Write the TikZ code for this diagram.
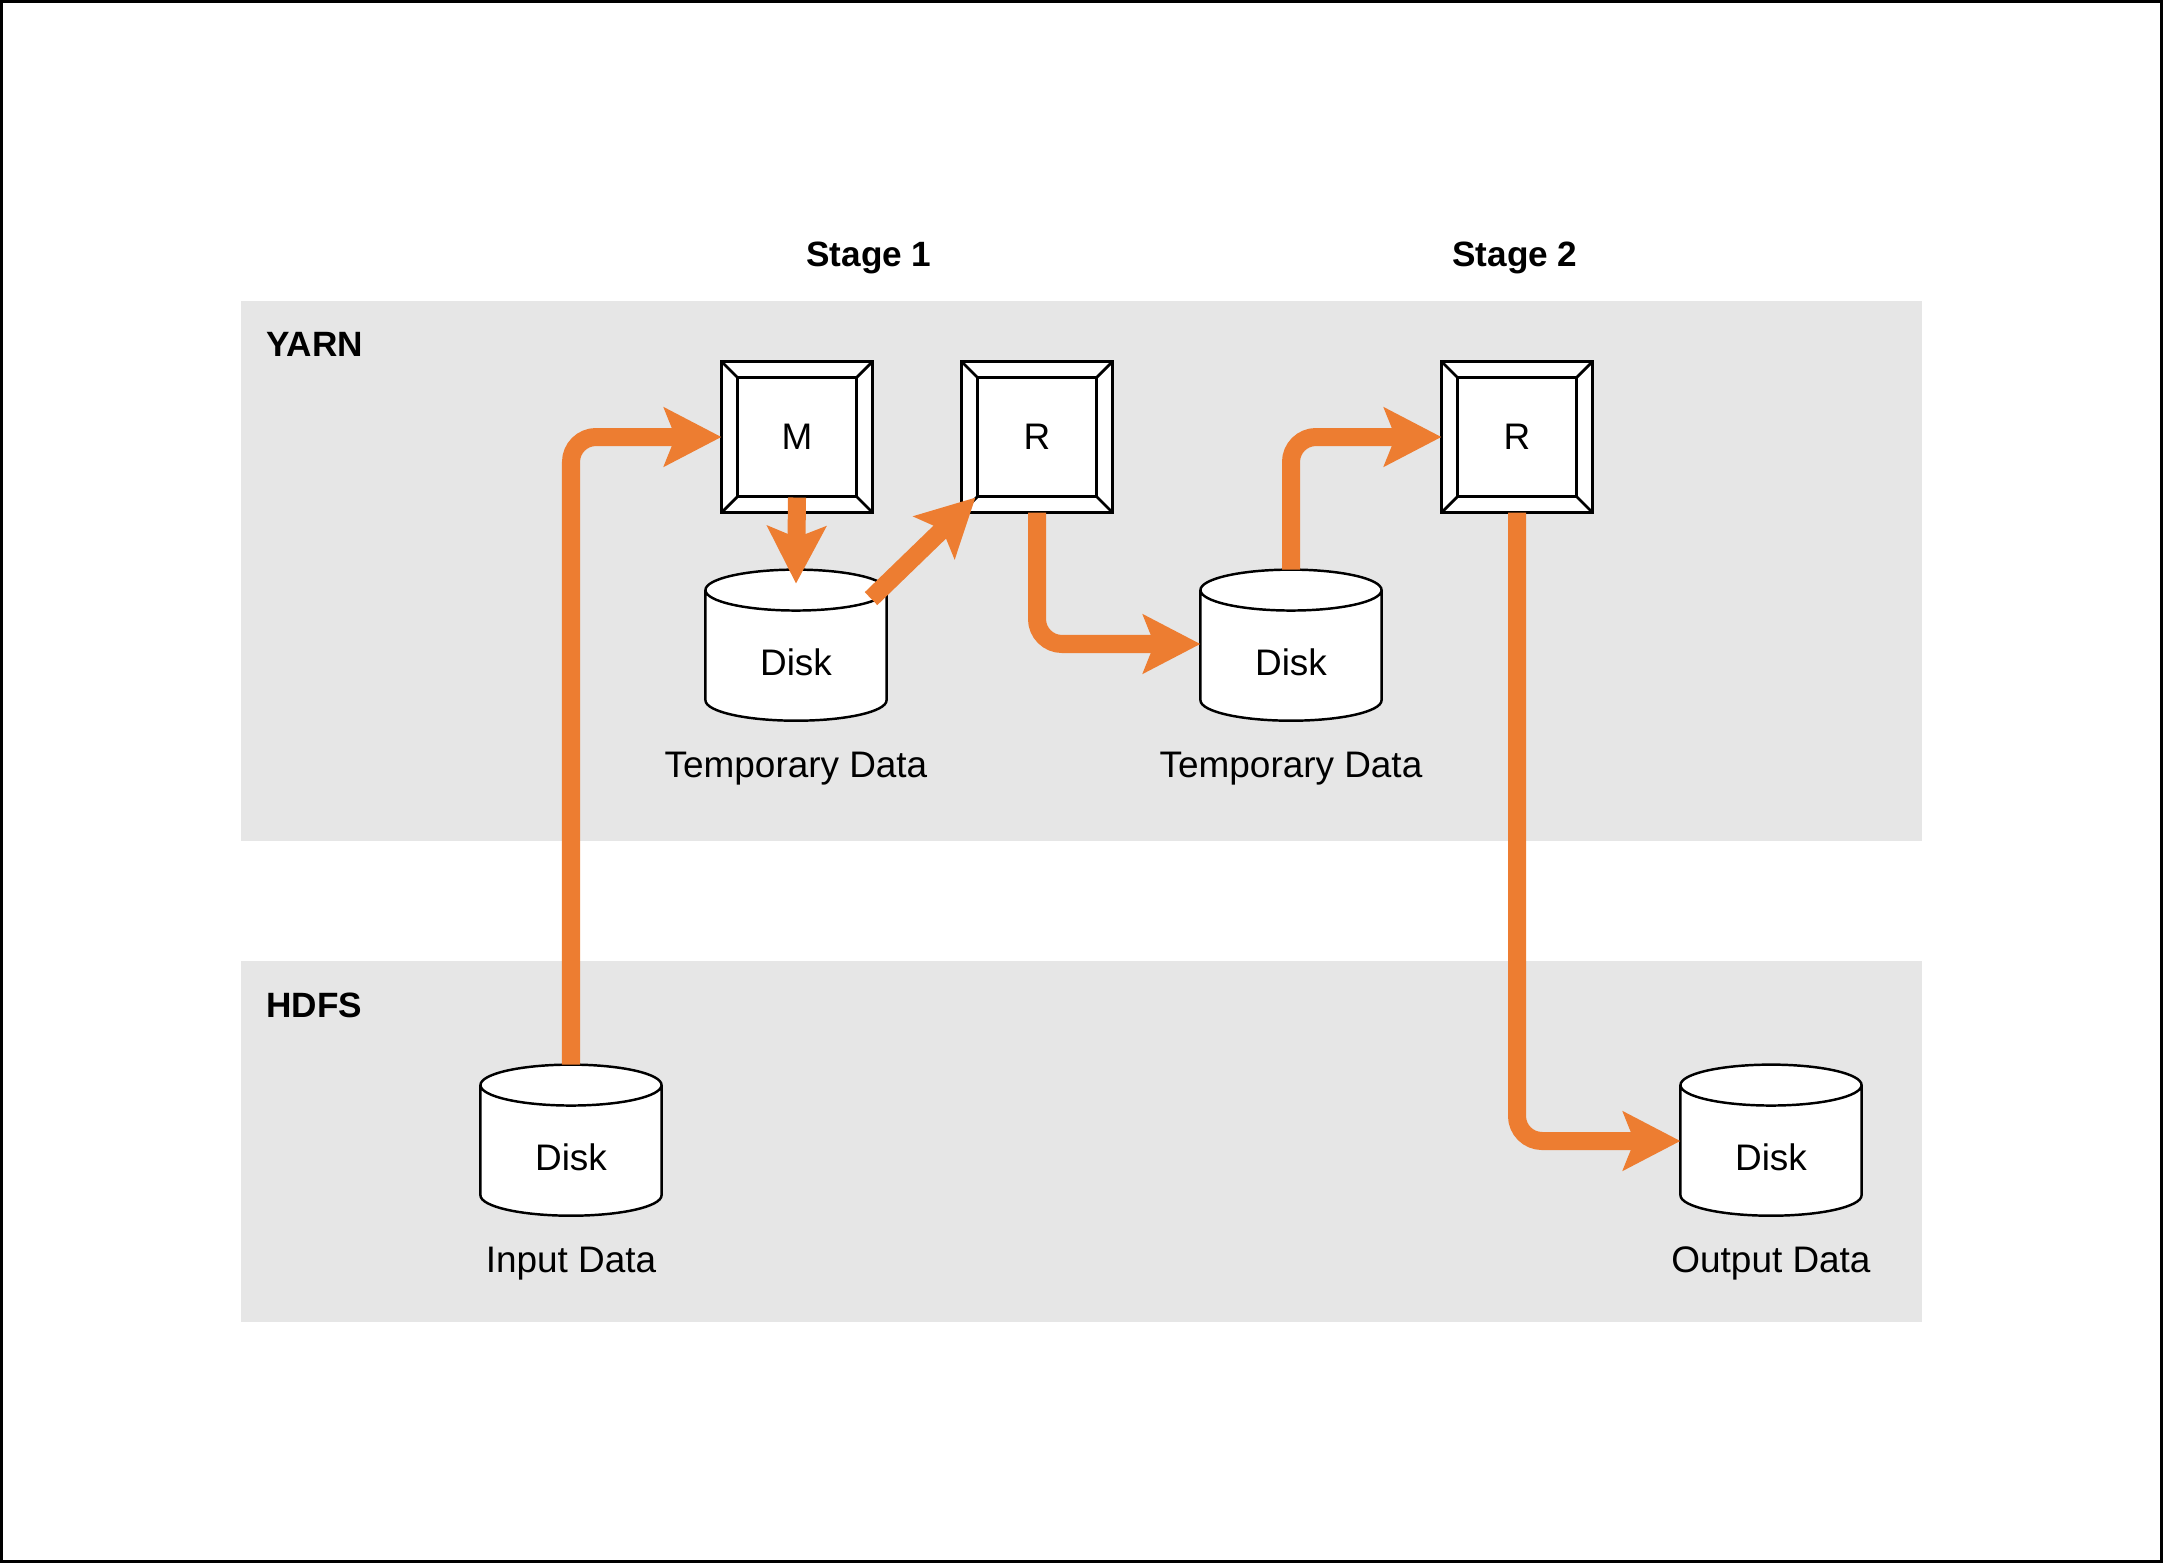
\documentclass[tikz,border=0pt]{standalone}
\usepackage{fontspec}
\setmainfont{Liberation Sans}
\usetikzlibrary{arrows.meta,shapes.geometric,positioning}
\definecolor{flowOrange}{HTML}{ED7D31}
\definecolor{bandGray}{HTML}{E6E6E6}

\begin{document}
\begin{tikzpicture}[
        x=0.01cm, y=-0.01cm,
        font=\fontsize{10.5pt}{12pt}\selectfont,
        task/.style={draw, fill=white, line width=0.8pt, minimum size=1.51cm, inner sep=0pt, outer sep=0pt},
        disk/.style={cylinder, shape border rotate=90, aspect=0.57, draw, fill=white, line width=0.7pt,
            minimum width=1.81cm, minimum height=1.51cm, inner sep=0pt, outer sep=0pt,
            text height=0.39cm, text depth=0pt},
        flow/.style={draw=flowOrange, line width=0.18cm,
            -{Stealth[length=0.57cm, width=0.58cm, inset=0.11cm]}},
        datalabel/.style={below=0.19cm of #1},
        heading/.style={font=\fontsize{10pt}{12pt}\selectfont\bfseries},
    ]
    \useasboundingbox (0,0) rectangle (2163,1563);
    \draw[line width=0.9pt] (1.5,1.5) rectangle (2161.5,1561.5);

    % layers
    \fill[bandGray] (241,301) rectangle (1922,841);
    \fill[bandGray] (241,961) rectangle (1922,1322);
    \node[heading, anchor=west] (yarn) at (254,344) {YARN};
    \node[heading, anchor=west] (hdfs) at (254,1005) {HDFS};
    \node[heading] (stage1) at (869,258) {Stage 1};
    \node[heading] (stage2) at (1515,258) {Stage 2};

    % tasks
    \node[task] (M) at (797,437) {M};
    \node[task] (R1) at (1037,437) {R};
    \node[task] (R2) at (1517,437) {R};
    \foreach \b in {M,R1,R2} {
        \draw[line width=0.8pt] ([shift={(0.16cm,0.16cm)}]\b.south west) rectangle ([shift={(-0.16cm,-0.16cm)}]\b.north east);
        \draw[line width=0.8pt] (\b.south west) -- ++(0.16cm,0.16cm);
        \draw[line width=0.8pt] (\b.south east) -- ++(-0.16cm,0.16cm);
        \draw[line width=0.8pt] (\b.north west) -- ++(0.16cm,-0.16cm);
        \draw[line width=0.8pt] (\b.north east) -- ++(-0.16cm,-0.16cm);
    }

    % disks
    \node[disk] (D1) at (796,656) {Disk};
    \node[disk] (D2) at (1291,656) {Disk};
    \node[disk] (Din) at (571,1151) {Disk};
    \node[disk] (Dout) at (1771,1151) {Disk};
    \node[datalabel=D1] (t1) {Temporary Data};
    \node[datalabel=D2] (t2) {Temporary Data};
    \node[datalabel=Din] (tin) {Input Data};
    \node[datalabel=Dout] (tout) {Output Data};

    % data flow
    \draw[flow, rounded corners=0.25cm] (Din.north) |- (M.west);
    \draw[flow] ([yshift=0.15cm]M.south) -- ([yshift=-0.14cm]D1.north);
    \draw[flow] ([shift={(0.75cm,-0.29cm)}]D1.north) -- ([shift={(0.14cm,0.15cm)}]R1.south west);
    \draw[flow, rounded corners=0.25cm] (R1.south) |- ([yshift=0.12cm]D2.west);
    \draw[flow, rounded corners=0.25cm] (D2.north) |- (R2.west);
    \draw[flow, rounded corners=0.25cm] (R2.south) |- ([yshift=0.1cm]Dout.west);
\end{tikzpicture}
\end{document}
